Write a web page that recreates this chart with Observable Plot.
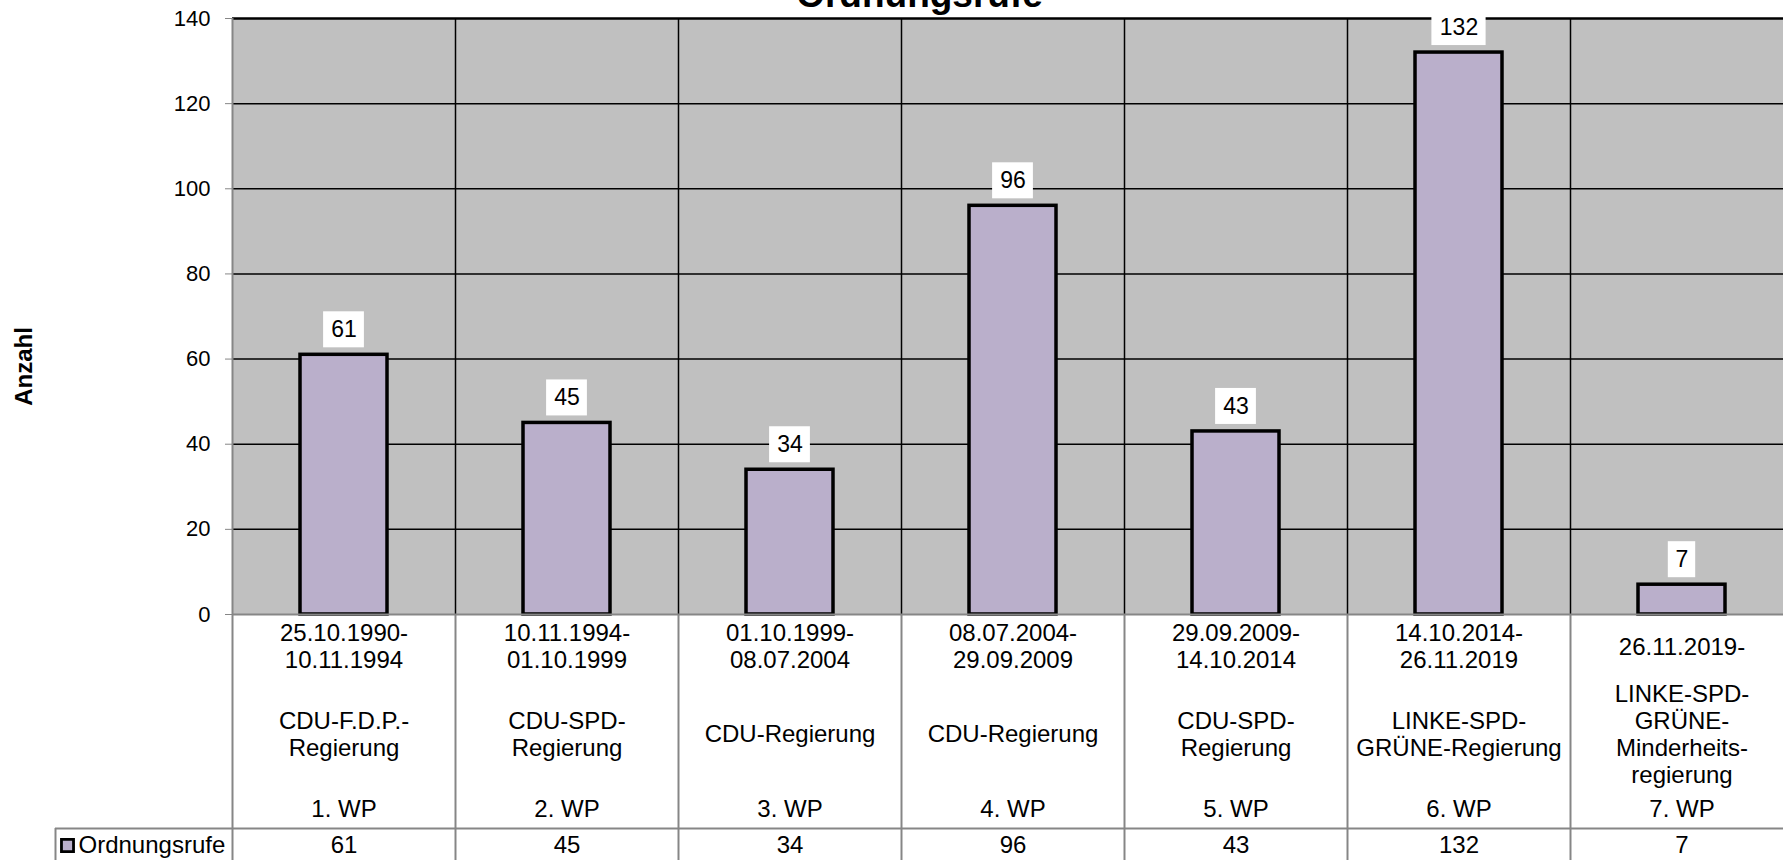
<!DOCTYPE html>
<html>
<head>
<meta charset="utf-8">
<script src="https://cdn.jsdelivr.net/npm/d3@7"></script>
<script src="https://cdn.jsdelivr.net/npm/@observablehq/plot@0.6"></script>
<style>
html, body { margin: 0; padding: 0; background: #fff; overflow: hidden; }
#chart svg { display: block; }
</style>
</head>
<body>
<div id="chart"></div>
<script>
// ---- data ----
const title = "Ordnungsrufe";
const yLabel = "Anzahl";
const seriesName = "Ordnungsrufe";
const wahlperioden = ["1. WP", "2. WP", "3. WP", "4. WP", "5. WP", "6. WP", "7. WP"];
const zeitraeume = [
  "25.10.1990-\n10.11.1994",
  "10.11.1994-\n01.10.1999",
  "01.10.1999-\n08.07.2004",
  "08.07.2004-\n29.09.2009",
  "29.09.2009-\n14.10.2014",
  "14.10.2014-\n26.11.2019",
  "26.11.2019-"
];
const regierungen = [
  "CDU-F.D.P.-\nRegierung",
  "CDU-SPD-\nRegierung",
  "CDU-Regierung",
  "CDU-Regierung",
  "CDU-SPD-\nRegierung",
  "LINKE-SPD-\nGRÜNE-Regierung",
  "LINKE-SPD-\nGRÜNE-\nMinderheits-\nregierung"
];
const ordnungsrufe = [61, 45, 34, 96, 43, 132, 7];
const yTicks = [0, 20, 40, 60, 80, 100, 120, 140];

const data = wahlperioden.map((wp, i) => ({wp, zeit: zeitraeume[i], reg: regierungen[i], v: ordnungsrufe[i]}));

// ---- layout ----
const W = 1783, H = 860, mL = 232, mT = 18, mB = 246;
const plotH = H - mT - mB;
const step = 223, bandW = 87;
const pInner = 1 - bandW / step;
const gray = "#868686";
const barFill = "#baafcb";
const legendLeft = 55;
const rowLineDy = 214;
const font = "'Liberation Sans', Arial, Helvetica, sans-serif";

const boxW = n => n * 13.4 + 14;
const lens = [...new Set(data.map(d => String(d.v).length))];
const boxMarks = lens.map(n => Plot.barY(data.filter(d => String(d.v).length === n), {
  x: "wp", y1: "v", y2: "v", fill: "white",
  insetTop: -43, insetBottom: 7,
  insetLeft: (bandW - boxW(n)) / 2, insetRight: (bandW - boxW(n)) / 2
}));

const chart = Plot.plot({
  width: W, height: H,
  marginLeft: mL, marginRight: 0, marginTop: mT, marginBottom: mB,
  style: {fontFamily: font, fontSize: "24px", background: "#fff", color: "#000", overflow: "hidden"},
  x: {domain: wahlperioden, range: [mL, mL + step * wahlperioden.length], paddingInner: pInner, paddingOuter: pInner / 2, axis: null},
  y: {domain: [0, 140]},
  marks: [
    Plot.frame({fill: "#c0c0c0", stroke: null}),
    // gridlines
    Plot.ruleY(yTicks.filter(t => t > 0 && t < 140), {stroke: "#000", strokeWidth: 1.5}),
    Plot.ruleX(wahlperioden.slice(1), {x: d => d, dx: -step / 2, stroke: "#000", strokeWidth: 1.5}),
    Plot.ruleY([140], {stroke: "#000", strokeWidth: 2.5}),
    // bars
    Plot.barY(data, {x: "wp", y: "v", fill: barFill, stroke: "#000", strokeWidth: 3.5}),
    // value labels
    ...boxMarks,
    Plot.text(data, {x: "wp", y: "v", text: d => String(d.v), dy: -25, lineAnchor: "middle", fontSize: 23}),
    // axes lines
    Plot.ruleX([wahlperioden[0]], {x: d => d, dx: -step / 2, insetBottom: -mB, stroke: gray, strokeWidth: 2}),
    Plot.ruleY([0], {stroke: gray, strokeWidth: 2}),
    Plot.axisY(yTicks, {tickSize: 7, tickPadding: 15, fontSize: 22, stroke: gray, label: null}),
    // data table
    Plot.ruleX(wahlperioden.slice(1), {x: d => d, dx: -step / 2, insetTop: plotH, insetBottom: -mB, stroke: gray, strokeWidth: 2}),
    Plot.ruleY([0], {dy: rowLineDy, insetLeft: -(mL - legendLeft), stroke: gray, strokeWidth: 2}),
    Plot.ruleX([wahlperioden[0]], {x: d => d, dx: -step / 2 - (mL - legendLeft), insetTop: plotH + rowLineDy, insetBottom: -mB, stroke: gray, strokeWidth: 2}),
    Plot.text(data, {x: "wp", text: "zeit", frameAnchor: "bottom", dy: 31.5, lineAnchor: "middle", lineHeight: 1.125, fontSize: 24}),
    Plot.text(data, {x: "wp", text: "reg", frameAnchor: "bottom", dy: 119, lineAnchor: "middle", lineHeight: 1.125, fontSize: 24}),
    Plot.text(data, {x: "wp", text: "wp", frameAnchor: "bottom", dy: 195, lineAnchor: "middle", fontSize: 24}),
    Plot.text(data, {x: "wp", text: d => String(d.v), frameAnchor: "bottom", dy: 231, lineAnchor: "middle", fontSize: 24}),
    // legend
    Plot.dot([seriesName], {frameAnchor: "bottom-left", dx: 67 - mL, dy: 231, symbol: "square", r: 6.8, fill: barFill, stroke: "#000", strokeWidth: 2.8}),
    Plot.text([seriesName], {text: d => d, frameAnchor: "bottom-left", dx: 78 - mL, dy: 231, textAnchor: "start", lineAnchor: "middle", fontSize: 24}),
    // y label
    Plot.text([yLabel], {text: d => d, frameAnchor: "left", dx: 24 - mL, dy: 50, rotate: -90, textAnchor: "middle", lineAnchor: "middle", fontWeight: "bold", fontSize: 24}),
    // title
    Plot.text([title], {text: d => d, frameAnchor: "top-left", dx: 919 - mL, dy: 6 - mT, textAnchor: "middle", lineAnchor: "bottom", fontWeight: "bold", fontSize: 37})
  ]
});
document.getElementById("chart").appendChild(chart);
</script>
</body>
</html>
